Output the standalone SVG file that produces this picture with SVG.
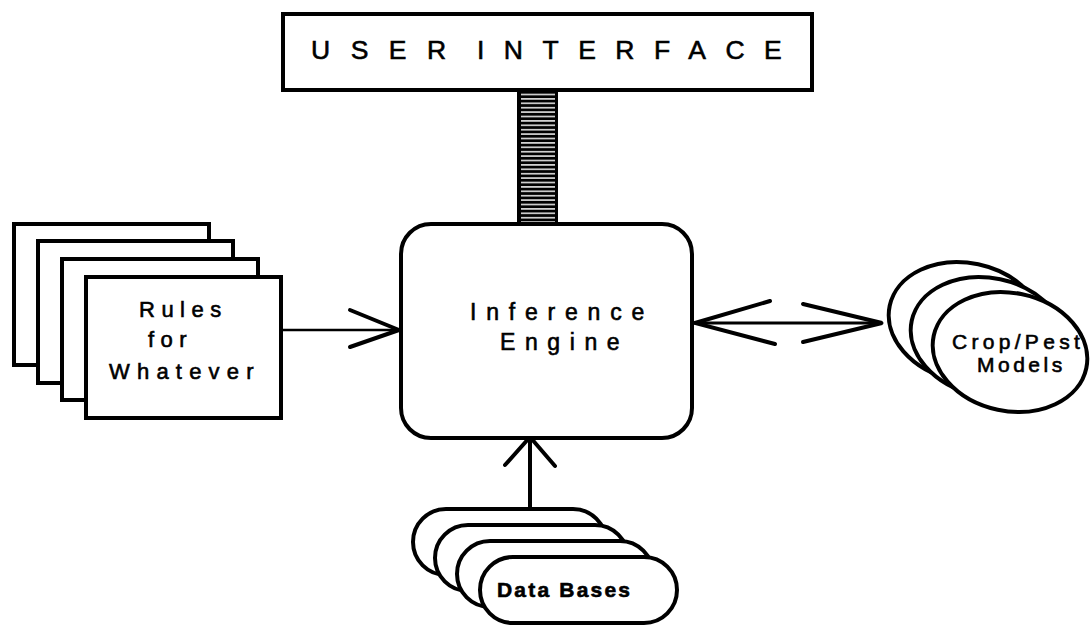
<svg xmlns="http://www.w3.org/2000/svg" width="1090" height="626" viewBox="0 0 1090 626">
  <style>
    .box { fill: #fff; stroke: #000; stroke-width: 4; }
    .txt { font-family: "Liberation Sans", Arial, sans-serif; fill: #000; stroke: #000; stroke-width: 0.6; }
    .conn { fill: none; stroke: #000; stroke-linecap: round; }
  </style>
  <defs>
    <!-- horizontal ruling for the interface stem -->
    <pattern id="ruled" x="0" y="91" width="8" height="4.4" patternUnits="userSpaceOnUse">
      <rect width="8" height="4.4" fill="#000"/>
      <rect y="2.8" width="8" height="1.4" fill="#fff"/>
    </pattern>
  </defs>
  <rect width="1090" height="626" fill="#fff"/>

  <!-- connectors -->
  <g id="connectors">
    <!-- stem between user interface and inference engine -->
    <rect x="517" y="90" width="41" height="134" fill="#000"/>
    <rect x="521" y="91" width="34" height="131" fill="url(#ruled)"/>
    <!-- rules -> engine -->
    <line class="conn" x1="281" y1="330" x2="399" y2="330" stroke-width="2.5"/>
    <polyline class="conn" points="350,310 399,330 350,347" stroke-width="4"/>
    <!-- engine <-> models -->
    <line class="conn" x1="695" y1="323" x2="882" y2="323" stroke-width="3"/>
    <polyline class="conn" points="770,301 695,323 775,344" stroke-width="4"/>
    <polyline class="conn" points="803,304 882,323 803,342" stroke-width="4"/>
    <!-- data bases -> engine -->
    <line class="conn" x1="530" y1="508" x2="530" y2="440" stroke-width="4"/>
    <polyline class="conn" points="505,465 530,437 555,466" stroke-width="4"/>
  </g>

  <g id="user-interface">
    <rect class="box" x="283" y="14" width="529" height="76" stroke-width="3.5"/>
    <text class="txt" x="311" y="59" font-size="26.5" letter-spacing="20.5">USER</text>
    <text class="txt" x="477" y="59" font-size="26.5" letter-spacing="19.5">INTERFACE</text>
  </g>

  <g id="inference-engine">
    <rect class="box" x="401" y="224" width="291" height="214" rx="30" ry="30"/>
    <text class="txt" x="470" y="320" font-size="23" letter-spacing="9.8">Inference</text>
    <text class="txt" x="500" y="350" font-size="23" letter-spacing="9.6">Engine</text>
  </g>

  <g id="rules">
    <rect class="box" x="14" y="224" width="195" height="141"/>
    <rect class="box" x="38" y="241" width="195" height="142"/>
    <rect class="box" x="62" y="259" width="196" height="141"/>
    <rect class="box" x="86" y="277" width="195" height="141"/>
    <text class="txt" x="139" y="317" font-size="22" letter-spacing="6.5">Rules</text>
    <text class="txt" x="148" y="347" font-size="22" letter-spacing="6.5">for</text>
    <text class="txt" x="109" y="379" font-size="22" letter-spacing="7.2">Whatever</text>
  </g>

  <g id="crop-pest-models">
    <ellipse class="box" cx="966" cy="322" rx="78" ry="59" transform="rotate(12 966 322)"/>
    <ellipse class="box" cx="988" cy="337" rx="78" ry="59" transform="rotate(12 988 337)"/>
    <ellipse class="box" cx="1010" cy="352" rx="78" ry="59" transform="rotate(12 1010 352)"/>
    <text class="txt" x="952" y="349" font-size="21" letter-spacing="4.3">Crop/Pest</text>
    <text class="txt" x="977" y="372" font-size="21" letter-spacing="3.5">Models</text>
  </g>

  <g id="data-bases">
    <rect class="box" x="413" y="509" width="193" height="66" rx="33" ry="33"/>
    <rect class="box" x="435" y="525" width="193" height="66" rx="33" ry="33"/>
    <rect class="box" x="457" y="541" width="196" height="66" rx="33" ry="33"/>
    <rect class="box" x="480" y="557" width="197" height="66" rx="33" ry="33"/>
    <text class="txt" x="497" y="597" font-size="21" font-weight="bold" letter-spacing="2.2" stroke-width="0.2">Data Bases</text>
  </g>
</svg>
